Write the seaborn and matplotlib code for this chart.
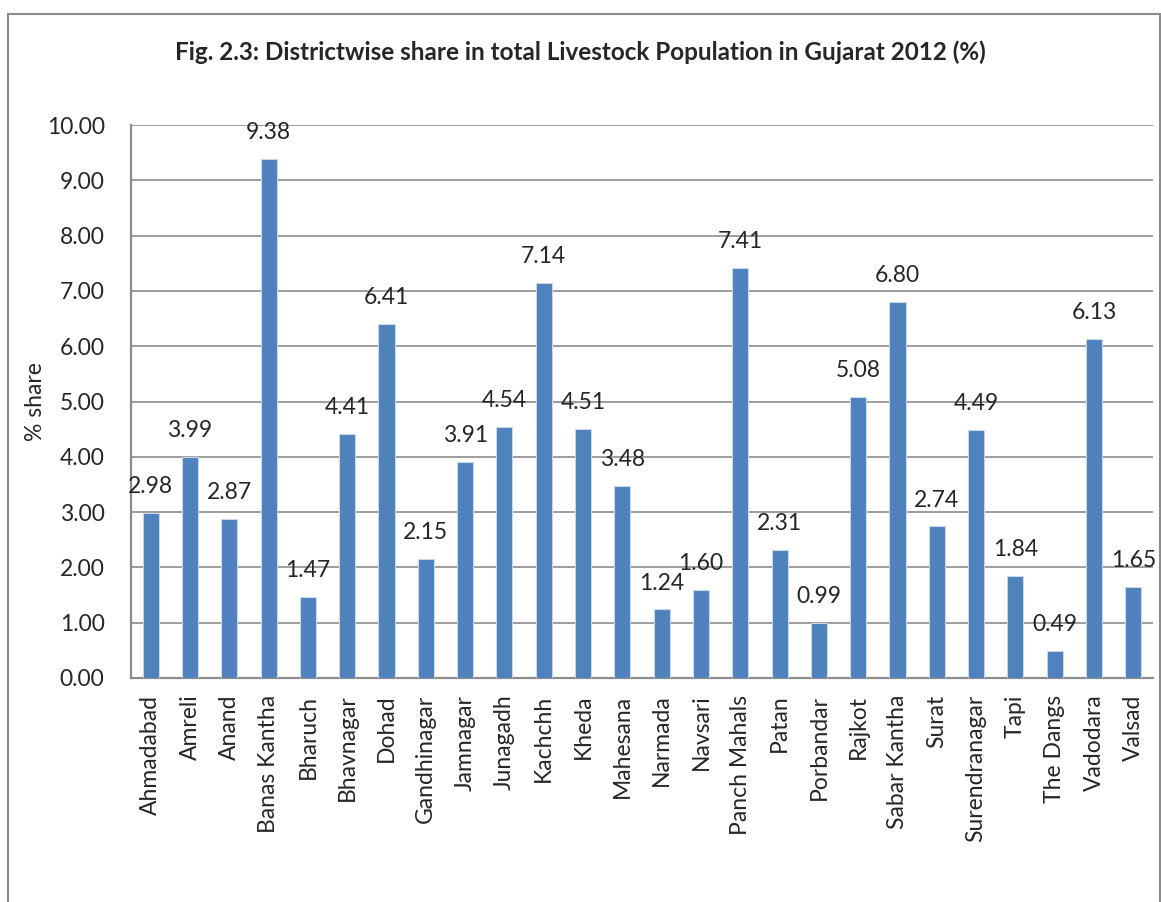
import matplotlib
matplotlib.use("Agg")
import matplotlib.pyplot as plt
import seaborn as sns
import pandas as pd
from matplotlib.patches import Rectangle

districts = ["Ahmadabad", "Amreli", "Anand", "Banas Kantha", "Bharuch", "Bhavnagar",
             "Dohad", "Gandhinagar", "Jamnagar", "Junagadh", "Kachchh", "Kheda",
             "Mahesana", "Narmada", "Navsari", "Panch Mahals", "Patan", "Porbandar",
             "Rajkot", "Sabar Kantha", "Surat", "Surendranagar", "Tapi", "The Dangs",
             "Vadodara", "Valsad"]
share = [2.98, 3.99, 2.87, 9.38, 1.47, 4.41, 6.41, 2.15, 3.91, 4.54, 7.14, 4.51,
         3.48, 1.24, 1.60, 7.41, 2.31, 0.99, 5.08, 6.80, 2.74, 4.49, 1.84, 0.49,
         6.13, 1.65]

df = pd.DataFrame({"district": districts, "share": share})

sns.set_theme(style="white")
plt.rcParams["font.family"] = ["Lato", "DejaVu Sans"]

fig = plt.figure(figsize=(11.61, 9.02), dpi=100)
ax = fig.add_axes([131 / 1161, 1 - 678 / 902, (1153 - 131) / 1161, (678 - 125) / 902])

sns.barplot(data=df, x="district", y="share", color="#4F81BD", width=0.41,
            edgecolor="#C9D7EA", linewidth=0.8, saturation=1, ax=ax, zorder=3)

fs = 16.5
ax.set_ylim(0, 10)
ax.set_xlim(-0.5, len(districts) - 0.5)
ax.set_yticks([i for i in range(11)])
ax.set_yticklabels([f"{i:.2f}" for i in range(11)], fontsize=fs)
ax.tick_params(axis="y", length=0, pad=19)
ax.tick_params(axis="x", length=0, pad=12)
ax.set_xticks(range(len(districts)))
ax.set_xticklabels(districts, rotation=90, fontsize=fs)
ax.yaxis.grid(True, color="#8C8C8C", linewidth=1.2, zorder=0)
ax.set_xlabel("")
ax.set_ylabel("% share", fontsize=fs)
ax.yaxis.set_label_coords(-0.083, 0.5)
for side in ["top", "right"]:
    ax.spines[side].set_visible(False)
for side in ["left", "bottom"]:
    ax.spines[side].set_color("#8C8C8C")
    ax.spines[side].set_linewidth(1.6)

for i, v in enumerate(share):
    ax.annotate(f"{v:.2f}", (i, v), xytext=(0, 19), textcoords="offset points",
                ha="center", va="center", fontsize=fs, zorder=5)

fig.text(0.5, 1 - 52 / 902, "Fig. 2.3: Districtwise share in total Livestock Population in Gujarat 2012 (%)",
         ha="center", va="center", fontsize=17.5, fontweight="bold")

fig.patches.append(Rectangle((8 / 1161, -0.05), 1152 / 1161, 1.05 - 14 / 902,
                             transform=fig.transFigure, fill=False,
                             edgecolor="#8C8C8C", linewidth=1.5))

fig.savefig("out.png", dpi=100)
